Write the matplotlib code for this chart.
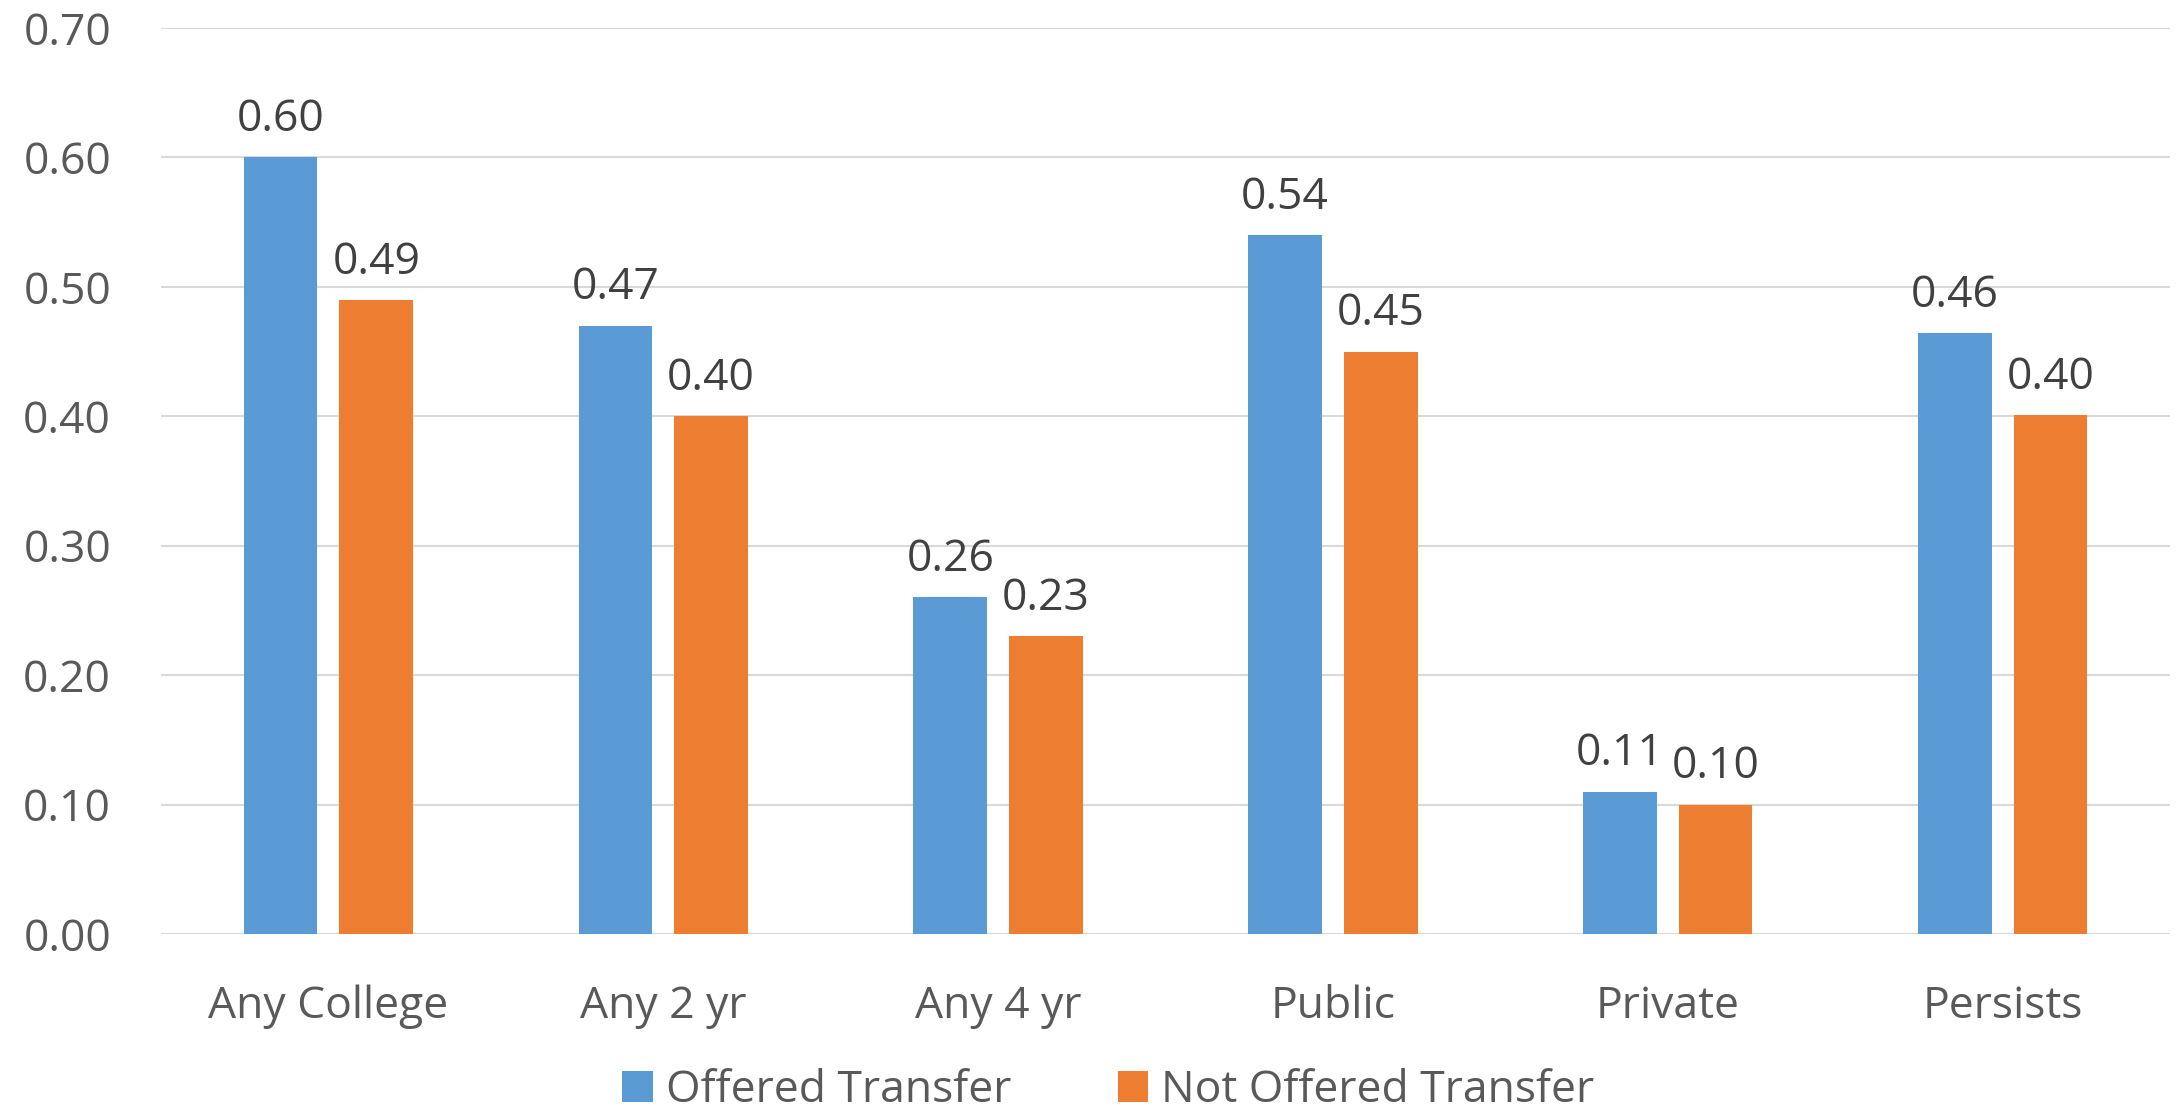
import numpy as np
import matplotlib.pyplot as plt

categories = ["Any College", "Any 2 yr", "Any 4 yr", "Public", "Private", "Persists"]
offered = [0.60, 0.47, 0.26, 0.54, 0.11, 0.464]
not_offered = [0.49, 0.40, 0.23, 0.45, 0.10, 0.401]
series_names = ["Offered Transfer", "Not Offered Transfer"]
y_ticks = [0.0, 0.1, 0.2, 0.3, 0.4, 0.5, 0.6, 0.7]

plt.rcParams["font.family"] = ["Open Sans", "DejaVu Sans"]

fig = plt.figure(figsize=(21.82, 11.11), dpi=100)
ax = fig.add_axes([0.0738, 0.1593, 0.9207, 0.8155])

x = np.arange(len(categories))
w = 0.22
gap = 0.066
b1 = ax.bar(x - (w + gap) / 2, offered, w, color="#5B9BD5", label=series_names[0], zorder=3)
b2 = ax.bar(x + (w + gap) / 2, not_offered, w, color="#ED7D31", label=series_names[1], zorder=3)

for bars in (b1, b2):
    ax.bar_label(bars, labels=[f"{v:.2f}" for v in bars.datavalues], padding=11,
                 fontsize=32, color="#404040")

ax.set_xlim(-0.5, len(categories) - 0.5)
ax.set_ylim(0, 0.7)
ax.set_yticks(y_ticks)
ax.set_yticklabels([f"{t:.2f}" for t in y_ticks])
ax.set_xticks(x)
ax.set_xticklabels(categories)
ax.tick_params(axis="both", length=0, labelsize=32, labelcolor="#595959")
ax.tick_params(axis="y", pad=36)
ax.tick_params(axis="x", pad=36)
ax.yaxis.grid(True, color="#D9D9D9", linewidth=1.5, zorder=0)
for s in ax.spines.values():
    s.set_visible(False)

fig.legend(handles=[b1, b2], loc="lower center", bbox_to_anchor=(0.508, -0.03), ncol=2,
           frameon=False, fontsize=32, labelcolor="#595959", handlelength=0.68,
           handleheight=0.68, handletextpad=0.3, columnspacing=2.4, borderpad=0.2)

fig.savefig("out.png", dpi=100)
